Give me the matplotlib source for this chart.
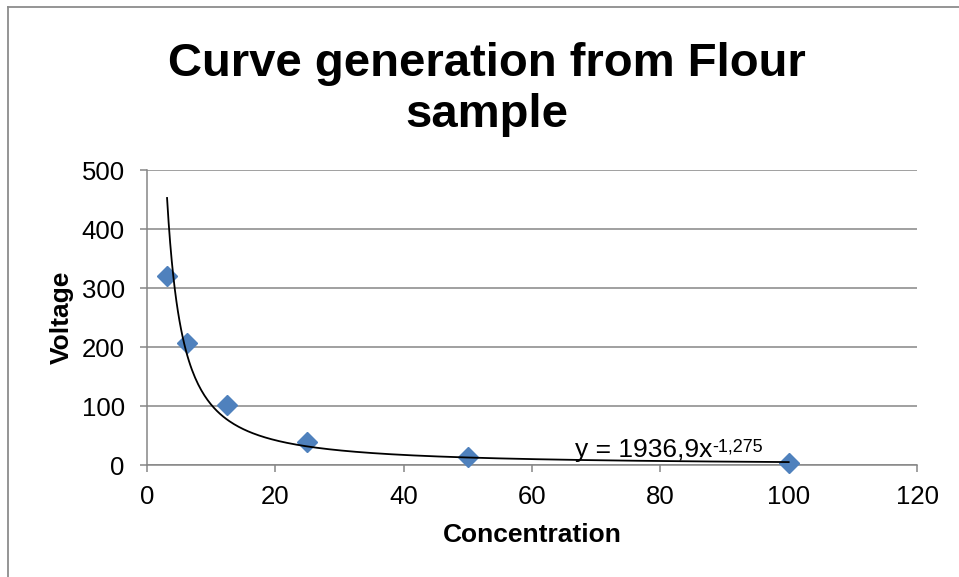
import numpy as np
import matplotlib
matplotlib.use("Agg")
import matplotlib.pyplot as plt
from matplotlib.lines import Line2D

plt.rcParams['font.family'] = ['Liberation Sans', 'DejaVu Sans']

# Data
concentration = [3.125, 6.25, 12.5, 25, 50, 100]
voltage = [321, 208, 102, 40, 14, 4]
# Power trendline y = a * x^b
trend_a = 1936.9
trend_b = -1.275
equation_text = "y = 1936,9x"
equation_sup = "-1,275"
x_ticks = [0, 20, 40, 60, 80, 100, 120]
y_ticks = [0, 100, 200, 300, 400, 500]
title = "Curve generation from Flour\nsample"
xlabel = "Concentration"
ylabel = "Voltage"

grey = '#868686'

fig = plt.figure(figsize=(9.59, 5.77), dpi=100)
ax = fig.add_axes([147/959, 1-465.3/577, (917-147)/959, (465.3-170.3)/577])

ax.set_xlim(0, 120)
ax.set_ylim(0, 500)
ax.set_xticks(x_ticks)
ax.set_yticks(y_ticks)

ax.grid(axis='y', color=grey, linewidth=1.1)
ax.set_axisbelow(True)
for s in ['top', 'right']:
    ax.spines[s].set_visible(False)
for s in ['left', 'bottom']:
    ax.spines[s].set_color(grey)
    ax.spines[s].set_linewidth(1.1)
ax.tick_params(axis='both', direction='out', length=5, width=1.1, color=grey,
               labelsize=18.5, pad=10)
ax.tick_params(axis='y', pad=11)
ax.tick_params(axis='x', pad=9)

ax.plot(concentration, voltage, linestyle='none', marker='D', markersize=10.5,
        color='#4F81BD', zorder=3, clip_on=False)

xt = np.linspace(min(concentration), max(concentration), 400)
ax.plot(xt, trend_a * xt ** trend_b, color='black', linewidth=1.3, zorder=4)

main = ax.text(66.7, 14, equation_text, fontsize=19, ha='left', va='baseline', zorder=5)
ax.annotate(equation_sup, xy=(1, 1), xycoords=main, xytext=(0, 0),
            textcoords='offset points', fontsize=13, ha='left', va='top', zorder=5)

ax.set_xlabel(xlabel, fontsize=19, fontweight='bold', labelpad=10)
ax.set_ylabel(ylabel, fontsize=19, fontweight='bold', labelpad=6)

fig.text(0.508, 0.845, title, fontsize=34, fontweight='bold', ha='center', va='center',
         linespacing=1.22)

# Chart border
fig.add_artist(Line2D([8/959, 1], [1-7/577, 1-7/577], color='#8c8c8c', linewidth=1.3,
                      transform=fig.transFigure))
fig.add_artist(Line2D([8/959, 8/959], [0, 1-7/577], color='#8c8c8c', linewidth=1.3,
                      transform=fig.transFigure))

fig.savefig('out.png', dpi=100)
